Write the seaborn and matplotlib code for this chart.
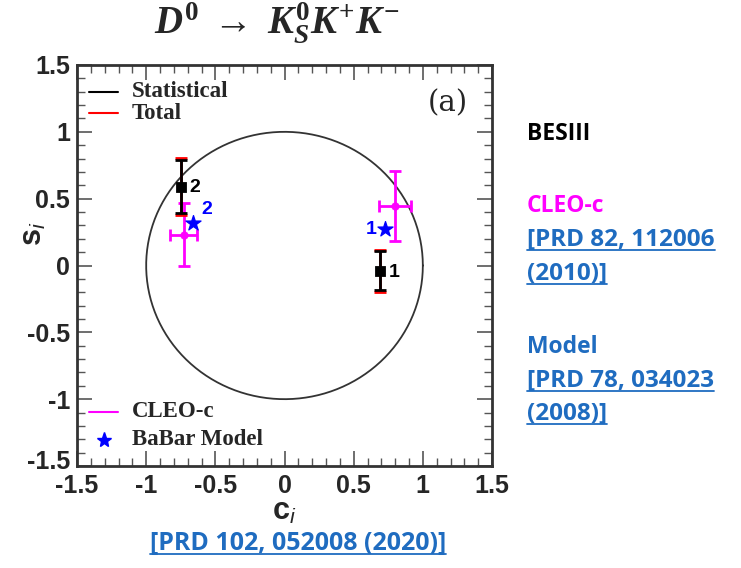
import numpy as np
import pandas as pd
import matplotlib
matplotlib.use('Agg')
import matplotlib.pyplot as plt
import seaborn as sns
from matplotlib.lines import Line2D
from matplotlib.ticker import MultipleLocator, FormatStrFormatter
from matplotlib.transforms import IdentityTransform, ScaledTranslation

# Datos
bin_ids = ['1', '2']
besiii_c = [0.69, -0.75]
besiii_s = [-0.04, 0.59]
besiii_stat = [0.145, 0.20]
besiii_tot = [0.155, 0.215]

cleo_c = [0.80, -0.73]
cleo_s = [0.445, 0.23]
cleo_c_err = [0.115, 0.095]
cleo_s_err = [0.26, 0.235]

babar_c = [0.727, -0.664]
babar_s = [0.273, 0.32]

W, H = 741, 568
LINK = '#1f6cc0'
MAGENTA = '#ff00ff'

sns.set_style('ticks')
plt.rcParams['font.family'] = ['Liberation Sans', 'DejaVu Sans']
plt.rcParams['mathtext.fontset'] = 'custom'
plt.rcParams['mathtext.rm'] = 'Liberation Serif:bold'
plt.rcParams['mathtext.bf'] = 'Liberation Sans:bold'
plt.rcParams['mathtext.it'] = 'Liberation Serif:bold:italic'
plt.rcParams['mathtext.sf'] = 'Liberation Sans:italic'

fig = plt.figure(figsize=(W / 100, H / 100), dpi=100)
ax = fig.add_axes([77 / W, 1 - 466 / H, (492 - 77) / W, (466 - 65) / H])

df_bes = pd.DataFrame({'c': besiii_c, 's': besiii_s, 'bin': bin_ids})
df_cleo = pd.DataFrame({'c': cleo_c, 's': cleo_s, 'bin': bin_ids})
df_babar = pd.DataFrame({'c': babar_c, 's': babar_s, 'bin': bin_ids})

# círculo unidad
th = np.linspace(0, 2 * np.pi, 400)
ax.plot(np.cos(th), np.sin(th), color='#333333', lw=1.3, zorder=1)

# CLEO-c
ax.errorbar(df_cleo['c'], df_cleo['s'], xerr=cleo_c_err, yerr=cleo_s_err,
            fmt='none', ecolor=MAGENTA, elinewidth=2, capsize=4, capthick=2, zorder=2)
sns.scatterplot(data=df_cleo, x='c', y='s', ax=ax, color=MAGENTA, marker='o',
                s=30, edgecolor=MAGENTA, zorder=3, legend=False)

# BESIII total (rojo) y estadístico (negro)
ax.errorbar(df_bes['c'], df_bes['s'], yerr=besiii_tot, fmt='none',
            ecolor='red', elinewidth=2, capsize=4, capthick=2, zorder=4)
ax.errorbar(df_bes['c'], df_bes['s'], yerr=besiii_stat, fmt='none',
            ecolor='black', elinewidth=2, capsize=4, capthick=2, zorder=5)
sns.scatterplot(data=df_bes, x='c', y='s', ax=ax, color='black', marker='s',
                s=55, edgecolor='black', zorder=6, legend=False)

# BaBar model
sns.scatterplot(data=df_babar, x='c', y='s', ax=ax, color='blue', marker='*',
                s=130, edgecolor='blue', zorder=7, legend=False)

# etiquetas de bins
lab_font = dict(fontsize=14, fontweight='bold', va='center')
for _, r in df_bes.iterrows():
    ax.text(r['c'] + 0.06, r['s'] - 0.01, r['bin'], color='black', **lab_font)
ax.text(df_babar['c'][1] + 0.06, df_babar['s'][1] + 0.1, '2', color='blue', **lab_font)
ax.text(df_babar['c'][0] - 0.14, df_babar['s'][0] + 0.0, '1', color='blue', **lab_font)

ax.set_xlim(-1.5, 1.5)
ax.set_ylim(-1.5, 1.5)
ax.xaxis.set_major_locator(MultipleLocator(0.5))
ax.yaxis.set_major_locator(MultipleLocator(0.5))
ax.xaxis.set_minor_locator(MultipleLocator(0.1))
ax.yaxis.set_minor_locator(MultipleLocator(0.1))
ax.xaxis.set_major_formatter(FormatStrFormatter('%g'))
ax.yaxis.set_major_formatter(FormatStrFormatter('%g'))
ax.tick_params(which='both', direction='in', top=True, right=True, color='#555555')
ax.tick_params(which='major', length=11, width=1.2, labelsize=18, pad=5)
ax.tick_params(which='minor', length=6, width=1)
ax.tick_params(axis='x', which='major', pad=6)
for lb in ax.get_xticklabels() + ax.get_yticklabels():
    lb.set_fontweight('bold')
for sp in ax.spines.values():
    sp.set_linewidth(2)
    sp.set_color('#333333')

ax.set_xlabel(r'$\mathbf{c}_{\mathsf{i}}$', fontsize=22)
ax.set_ylabel(r'$\mathbf{s}_{\mathsf{i}}$', fontsize=22)
ax.xaxis.label.set_va('baseline')
ax.yaxis.label.set_va('center')
ax.xaxis.set_label_coords(0.5, -0.134)
ax.yaxis.set_label_coords(-0.106, 0.58)

# leyendas (a mano, estilo ROOT)
leg_font = dict(family='Liberation Serif', fontweight='bold', fontsize=16.5,
                va='center', ha='left', transform=ax.transAxes)
x0, x1, xt = 0.029, 0.099, 0.1325
ax.plot([x0, x1], [0.933, 0.933], color='black', lw=1.5, transform=ax.transAxes)
ax.text(xt, 0.933, 'Statistical', **leg_font)
ax.plot([x0, x1], [0.880, 0.880], color='red', lw=1.5, transform=ax.transAxes)
ax.text(xt, 0.880, 'Total', **leg_font)
ax.plot([x0, x1], [0.135, 0.135], color=MAGENTA, lw=1.5, transform=ax.transAxes)
ax.text(xt, 0.135, 'CLEO-c', **leg_font)
ax.plot([(x0 + x1) / 2], [0.065], color='blue', marker='*', ms=11, ls='none',
        transform=ax.transAxes)
ax.text(xt, 0.065, 'BaBar Model', **leg_font)

ax.text(0.942, 0.94, '(a)', transform=ax.transAxes, ha='right', va='top',
        fontsize=21, family='DejaVu Serif')

# título
fig.text(277 / W, 1 - 34 / H,
         r'$D^{0}\;\rightarrow\;K_{S}^{0}K^{+}K^{-}$',
         ha='center', va='baseline', fontsize=28)

# textos a la derecha
def ftxt(x, y, s, color, link=False, ha='left', size=17.5):
    t = fig.text(x / W, 1 - y / H, s, color=color, fontsize=size, fontweight='bold',
                 family=['Open Sans', 'DejaVu Sans'], ha=ha, va='baseline')
    t._link = link
    return t

texts = [
    ftxt(527, 140, 'BESIII', 'black', size=16.5),
    ftxt(527, 212, 'CLEO-c', MAGENTA, size=16.5),
    ftxt(527, 246, '[PRD 82, 112006', LINK, True),
    ftxt(527, 280, '(2010)]', LINK, True),
    ftxt(527, 353, 'Model', LINK, size=16.5),
    ftxt(527, 387, '[PRD 78, 034023', LINK, True),
    ftxt(527, 420, '(2008)]', LINK, True),
    ftxt(298, 550, '[PRD 102, 052008 (2020)]', LINK, True, ha='center', size=18),
]

fig.canvas.draw()
r = fig.canvas.get_renderer()

# subir un poco la etiqueta -1.5 del eje y (como en el original)
for lb in ax.get_yticklabels():
    if lb.get_text() in ('-1.5', '\u22121.5'):
        lb.set_transform(lb.get_transform() + ScaledTranslation(0, 5 / 72, fig.dpi_scale_trans))

for t in texts:
    if t._link:
        bb = t.get_window_extent(r)
        yb = bb.y0 + 2
        fig.add_artist(Line2D([bb.x0, bb.x1], [yb, yb], color=LINK, lw=1.3,
                              transform=IdentityTransform()))

fig.savefig('out.png', dpi=100)
